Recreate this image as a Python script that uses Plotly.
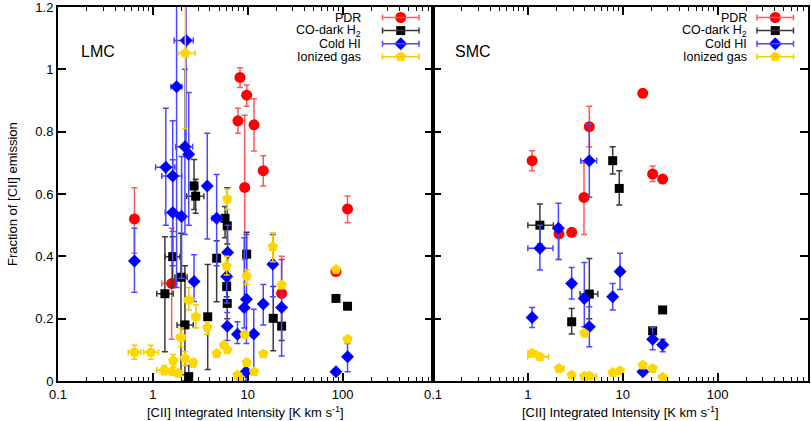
import plotly.graph_objects as go

# ---------------- LMC data ----------------
lmc_pdr_x = [0.64, 1.58, 8.30, 9.76, 7.9, 11.66, 14.6, 9.30, 113, 85.3, 22.8]
lmc_pdr_y = [0.52, 0.313, 0.974, 0.917, 0.835, 0.822, 0.675, 0.621, 0.552, 0.351, 0.281]
lmc_pdr_ylo = [0.41, 0.134, 0.942, 0.882, 0.795, 0.738, 0.626, 0.39, 0.508, 0.351, 0.17]
lmc_pdr_yhi = [0.62, 0.49, 1.005, 0.95, 0.875, 0.906, 0.723, 0.853, 0.594, 0.351, 0.40]
lmc_pdr_xlo = [0.64, 1.24, 8.30, 9.76, 7.9, 11.66, 14.6, 9.30, 113, 85.3, 22.8]
lmc_pdr_xhi = [0.64, 1.71, 8.30, 9.76, 7.9, 11.66, 14.6, 9.30, 113, 85.3, 22.8]

lmc_h2_x = [2.72, 2.83, 5.77, 6.09, 9.76, 1.62, 1.98, 1.34, 2.18, 2.39, 3.79, 4.71, 6.01, 6.09, 18.6, 22.8, 85.3, 113]
lmc_h2_y = [0.626, 0.593, 0.522, 0.498, 0.407, 0.399, 0.333, 0.28, 0.18, 0.014, 0.206, 0.394, 0.303, 0.249, 0.201, 0.176, 0.265, 0.24]
lmc_h2_ylo = [0.55, 0.538, 0.46, 0.44, 0.33, 0.30, 0.02, 0.094, 0.0, 0.0, 0.037, 0.254, 0.27, 0.2, 0.097, 0.13, 0.265, 0.24]
lmc_h2_yhi = [0.711, 0.647, 0.56, 0.62, 0.477, 0.463, 0.474, 0.463, 0.37, 0.05, 0.374, 0.45, 0.33, 0.3, 0.303, 0.23, 0.265, 0.24]
lmc_h2_xlo = [2.72, 2.27, 5.77, 6.09, 9.76, 1.35, 1.71, 1.10, 1.80, 2.39, 3.79, 4.71, 6.01, 6.09, 18.6, 22.8, 85.3, 113]
lmc_h2_xhi = [2.72, 3.45, 5.77, 6.09, 9.76, 1.93, 2.30, 1.64, 2.67, 2.39, 3.79, 4.71, 6.01, 6.09, 18.6, 22.8, 85.3, 113]

lmc_hi_x = [2.24, 1.78, 2.18, 2.39, 1.37, 1.62, 3.75, 1.62, 2.01, 4.71, 6.15, 0.64, 2.72, 6.01, 6.09, 9.7, 9.2, 7.8, 11.6, 9.6, 14.6, 18.4, 22.8, 85.3, 113]
lmc_hi_y = [1.093, 0.944, 0.752, 0.728, 0.686, 0.658, 0.626, 0.541, 0.528, 0.522, 0.412, 0.385, 0.319, 0.335, 0.176, 0.262, 0.235, 0.15, 0.151, 0.03, 0.247, 0.375, 0.236, 0.03, 0.078]
lmc_hi_ylo = [0.72, 0.30, 0.47, 0.50, 0.50, 0.48, 0.456, 0.37, 0.33, 0.37, 0.32, 0.285, 0.255, 0.25, 0.13, 0.12, 0.17, 0.12, 0.02, 0.0, 0.18, 0.27, 0.08, 0.03, 0.03]
lmc_hi_yhi = [1.5, 1.5, 1.0, 0.926, 0.875, 0.835, 0.795, 0.71, 0.72, 0.663, 0.50, 0.49, 0.405, 0.42, 0.22, 0.47, 0.46, 0.19, 0.23, 0.06, 0.31, 0.47, 0.39, 0.03, 0.12]
lmc_hi_xlo = [1.68, 1.55, 1.74, 2.39, 1.07, 1.24, 3.75, 1.35, 2.01, 4.2, 6.15, 0.60, 2.72, 6.01, 6.09, 9.7, 9.2, 7.8, 11.6, 9.6, 14.6, 18.4, 22.8, 85.3, 113]
lmc_hi_xhi = [2.67, 2.02, 2.63, 2.39, 1.71, 2.02, 3.75, 2.00, 2.01, 5.3, 6.15, 0.68, 2.72, 6.01, 6.09, 9.7, 9.2, 7.8, 11.6, 9.6, 14.6, 18.4, 22.8, 85.3, 113]

lmc_ion_x = [2.20, 6.09, 6.01, 9.76, 2.40, 2.85, 3.75, 1.98, 0.64, 0.95, 1.32, 1.64, 2.18, 2.67, 1.60, 1.85, 4.71, 5.6, 6.1, 7.8, 8.2, 9.76, 9.3, 11.7, 14.6, 18.4, 22.8, 85.3, 113]
lmc_ion_y = [1.052, 0.584, 0.369, 0.337, 0.26, 0.206, 0.172, 0.14, 0.092, 0.092, 0.035, 0.065, 0.073, 0.059, 0.03, 0.025, 0.088, 0.115, 0.1, 0.019, 0.009, 0.059, 0.148, 0.03, 0.087, 0.431, 0.308, 0.358, 0.134]
lmc_ion_ylo = [0.81, 0.55, 0.34, 0.31, 0.228, 0.17, 0.15, 0.11, 0.07, 0.07, 0.02, 0.045, 0.05, 0.045, 0.03, 0.025, 0.088, 0.115, 0.1, 0.019, 0.009, 0.059, 0.148, 0.03, 0.087, 0.383, 0.308, 0.358, 0.134]
lmc_ion_yhi = [1.5, 0.615, 0.40, 0.356, 0.30, 0.245, 0.19, 0.17, 0.115, 0.115, 0.05, 0.085, 0.095, 0.07, 0.03, 0.025, 0.088, 0.115, 0.1, 0.019, 0.009, 0.059, 0.148, 0.03, 0.087, 0.476, 0.308, 0.358, 0.134]
lmc_ion_xlo = [1.84, 6.09, 6.01, 9.76, 2.15, 2.6, 3.5, 1.8, 0.55, 0.80, 1.10, 1.64, 2.18, 2.67, 1.60, 1.85, 4.71, 5.6, 6.1, 7.8, 8.2, 9.76, 9.3, 11.7, 14.6, 18.4, 22.8, 85.3, 113]
lmc_ion_xhi = [2.78, 6.09, 6.01, 9.76, 2.70, 3.1, 4.0, 2.2, 0.75, 1.15, 1.55, 1.64, 2.18, 2.67, 1.60, 1.85, 4.71, 5.6, 6.1, 7.8, 8.2, 9.76, 9.3, 11.7, 14.6, 18.4, 22.8, 85.3, 113]

# ---------------- SMC data ----------------
smc_pdr_x = [1.11, 4.45, 3.91, 2.13, 2.90, 16.3, 20.7, 26.4]
smc_pdr_y = [0.707, 0.816, 0.589, 0.472, 0.477, 0.923, 0.664, 0.648]
smc_pdr_ylo = [0.675, 0.752, 0.47, 0.39, 0.477, 0.923, 0.64, 0.648]
smc_pdr_yhi = [0.739, 0.882, 0.70, 0.50, 0.477, 0.923, 0.69, 0.648]

smc_h2_x = [1.34, 7.85, 9.2, 4.45, 2.90, 26.4, 20.7]
smc_h2_y = [0.5, 0.707, 0.618, 0.279, 0.19, 0.228, 0.161]
smc_h2_ylo = [0.44, 0.664, 0.565, 0.2, 0.151, 0.228, 0.161]
smc_h2_yhi = [0.568, 0.752, 0.675, 0.393, 0.233, 0.228, 0.161]
smc_h2_xlo = [1.0, 7.85, 9.2, 3.55, 2.90, 26.4, 20.7]
smc_h2_xhi = [1.86, 7.85, 9.2, 5.48, 2.90, 26.4, 20.7]

smc_hi_x = [4.45, 2.10, 1.34, 2.90, 3.94, 4.45, 1.11, 7.85, 9.38, 20.7, 26.4, 16.3]
smc_hi_y = [0.707, 0.49, 0.426, 0.313, 0.265, 0.174, 0.204, 0.27, 0.351, 0.134, 0.116, 0.03]
smc_hi_ylo = [0.59, 0.39, 0.356, 0.263, 0.174, 0.11, 0.172, 0.228, 0.294, 0.1, 0.094, 0.03]
smc_hi_yhi = [0.824, 0.57, 0.50, 0.364, 0.38, 0.238, 0.236, 0.313, 0.41, 0.172, 0.134, 0.03]
smc_hi_xlo = [3.61, 1.95, 1.0, 2.90, 3.94, 4.45, 1.11, 7.85, 9.38, 20.7, 26.4, 16.3]
smc_hi_xhi = [5.32, 2.25, 1.84, 2.90, 3.94, 4.45, 1.11, 7.85, 9.38, 20.7, 26.4, 16.3]

smc_ion_x = [1.11, 1.34, 2.13, 2.90, 3.94, 4.45, 3.94, 7.85, 9.38, 16.3, 20.7, 26.4]
smc_ion_y = [0.089, 0.078, 0.04, 0.019, 0.015, 0.016, 0.153, 0.027, 0.033, 0.051, 0.04, 0.012]
smc_ion_xlo = [1.0, 1.0, 2.0, 2.90, 3.94, 3.7, 3.94, 7.85, 9.38, 16.3, 20.7, 26.4]
smc_ion_xhi = [1.25, 1.65, 2.4, 2.90, 3.94, 5.3, 3.94, 7.85, 9.38, 16.3, 20.7, 26.4]

series_names = ["PDR", "CO-dark H<sub>2</sub>", "Cold HI", "Ionized gas"]
y_ticks = [0, 0.2, 0.4, 0.6, 0.8, 1.0, 1.2]
y_tick_text = ["0", "0.2", "0.4", "0.6", "0.8", "1", "1.2"]
x_ticks = [0.1, 1, 10, 100]
x_tick_text = ["0.1", "1", "10", "100"]

FONT = "Liberation Sans, Arial"

# ---------------- styles ----------------
STY = {
    "pdr": dict(symbol="circle", size=11, color="#ff0000", bar="#ff5a5a"),
    "h2": dict(symbol="square", size=9, color="#000000", bar="#3a3a3a"),
    "hi": dict(symbol="diamond", size=10, color="#0000ff", bar="#4848ff"),
    "ion": dict(symbol="pentagon", size=11, color="#ffd700", bar="#f2cc00"),
}


def plus_minus(v, lo, hi):
    if lo is None:
        return [0] * len(v), [0] * len(v)
    p = [max(h - c, 0) for c, h in zip(v, hi)]
    m = [max(c - l, 0) for c, l in zip(v, lo)]
    return p, m


def add_series(fig, key, x, y, ylo=None, yhi=None, xlo=None, xhi=None, axis="x", yaxis="y"):
    s = STY[key]
    yp, ym = plus_minus(y, ylo, yhi)
    xp, xm = plus_minus(x, xlo, xhi)
    fig.add_trace(go.Scatter(
        x=x, y=y, mode="markers", xaxis=axis, yaxis=yaxis, showlegend=False,
        marker=dict(symbol=s["symbol"], size=s["size"], color=s["color"], line=dict(width=0)),
        error_y=dict(type="data", symmetric=False, array=yp, arrayminus=ym,
                     color=s["bar"], thickness=1.5, width=3),
        error_x=dict(type="data", symmetric=False, array=xp, arrayminus=xm,
                     color=s["bar"], thickness=1.5, width=3),
    ))


fig = go.Figure()
add_series(fig, "pdr", lmc_pdr_x, lmc_pdr_y, lmc_pdr_ylo, lmc_pdr_yhi, lmc_pdr_xlo, lmc_pdr_xhi)
add_series(fig, "h2", lmc_h2_x, lmc_h2_y, lmc_h2_ylo, lmc_h2_yhi, lmc_h2_xlo, lmc_h2_xhi)
add_series(fig, "hi", lmc_hi_x, lmc_hi_y, lmc_hi_ylo, lmc_hi_yhi, lmc_hi_xlo, lmc_hi_xhi)
add_series(fig, "ion", lmc_ion_x, lmc_ion_y, lmc_ion_ylo, lmc_ion_yhi, lmc_ion_xlo, lmc_ion_xhi)

add_series(fig, "pdr", smc_pdr_x, smc_pdr_y, smc_pdr_ylo, smc_pdr_yhi, axis="x2", yaxis="y2")
add_series(fig, "h2", smc_h2_x, smc_h2_y, smc_h2_ylo, smc_h2_yhi, smc_h2_xlo, smc_h2_xhi, axis="x2", yaxis="y2")
add_series(fig, "hi", smc_hi_x, smc_hi_y, smc_hi_ylo, smc_hi_yhi, smc_hi_xlo, smc_hi_xhi, axis="x2", yaxis="y2")
add_series(fig, "ion", smc_ion_x, smc_ion_y, None, None, smc_ion_xlo, smc_ion_xhi, axis="x2", yaxis="y2")

# ---------------- legends (drawn on a pixel overlay axis) ----------------
PW, PH = 750, 374  # plot area in px
shapes = []
annotations = []
leg_rows = [10.5, 23.6, 36.7, 49.8]
keys = ["pdr", "h2", "hi", "ion"]
for text_right, x0, x1 in [(304.5, 324.5, 361.0), (690.5, 699.0, 735.5)]:
    mx = (x0 + x1) / 2
    for key, name, ry in zip(keys, series_names, leg_rows):
        s = STY[key]
        lc = s["bar"]
        shapes.append(dict(type="line", xref="x3", yref="y3", x0=x0, x1=x1, y0=ry, y1=ry,
                           line=dict(color=lc, width=1.5)))
        for xe in (x0, x1):
            shapes.append(dict(type="line", xref="x3", yref="y3", x0=xe, x1=xe, y0=ry - 3, y1=ry + 3,
                               line=dict(color=lc, width=1.5)))
        annotations.append(dict(xref="x3", yref="y3", x=text_right, y=ry, text=name, showarrow=False,
                                xanchor="right", yanchor="middle",
                                font=dict(size=12.5, color="black", family=FONT)))
        fig.add_trace(go.Scatter(x=[mx], y=[ry], mode="markers", xaxis="x3", yaxis="y3",
                                 showlegend=False, hoverinfo="skip", cliponaxis=False,
                                 marker=dict(symbol=s["symbol"], size=s["size"], color=s["color"])))

# panel labels
annotations.append(dict(xref="x3", yref="y3", x=21, y=44, text="LMC", showarrow=False,
                        xanchor="left", yanchor="middle",
                        font=dict(size=16, color="black", family=FONT)))
annotations.append(dict(xref="x3", yref="y3", x=395, y=44, text="SMC", showarrow=False,
                        xanchor="left", yanchor="middle",
                        font=dict(size=16, color="black", family=FONT)))

# axis titles
xt = "[CII] Integrated Intensity [K km s<sup>-1</sup>]"
for xc in (0.25, 0.75):
    annotations.append(dict(xref="paper", yref="paper", x=xc, y=0, yshift=-21, text=xt,
                            showarrow=False, xanchor="center", yanchor="top",
                            font=dict(size=13, color="black", family=FONT)))
annotations.append(dict(xref="paper", yref="paper", x=-46 / PW, y=0.5, text="Fraction of [CII] emission",
                        textangle=-90, showarrow=False, xanchor="center", yanchor="middle",
                        font=dict(size=13, color="black", family=FONT)))

minor_vals = [m * 10 ** e for e in (-1, 0, 1, 2) for m in range(2, 10)]

common_x = dict(type="log", range=[-1, 2.9542], tickmode="array", tickvals=x_ticks, ticktext=x_tick_text,
                ticks="inside", ticklen=8, tickwidth=1.5, tickcolor="black",
                showline=True, linecolor="black", linewidth=2, mirror="allticks",
                showgrid=False, zeroline=False, ticklabeloverflow="allow", automargin=False,
                tickfont=dict(size=13, color="black", family=FONT),
                minor=dict(tickmode="array", tickvals=minor_vals, ticks="inside", ticklen=4,
                           tickwidth=1, tickcolor="black", showgrid=False))
common_y = dict(range=[0, 1.2001], tickmode="array", tickvals=y_ticks, ticktext=y_tick_text,
                ticks="inside", ticklen=8, tickwidth=1.5, tickcolor="black",
                showline=True, linecolor="black", linewidth=2, mirror="allticks",
                showgrid=False, zeroline=False, ticklabeloverflow="allow", automargin=False,
                tickfont=dict(size=13, color="black", family=FONT))

fig.update_layout(
    width=811, height=421,
    margin=dict(l=58, r=3, t=7, b=40, autoexpand=False),
    paper_bgcolor="white", plot_bgcolor="rgba(0,0,0,0)",
    showlegend=False,
    xaxis=dict(domain=[0, 0.5], anchor="y", **common_x),
    yaxis=dict(domain=[0, 1], anchor="x", **common_y),
    xaxis2=dict(domain=[0.5, 1], anchor="y2", **common_x),
    yaxis2=dict(domain=[0, 1], anchor="x2", showticklabels=False, **common_y),
    xaxis3=dict(domain=[0, 1], anchor="y3", range=[0, PW], visible=False, fixedrange=True),
    yaxis3=dict(domain=[0, 1], anchor="x3", range=[PH, 0], visible=False, fixedrange=True),
    shapes=shapes,
    annotations=annotations,
)

fig.write_html("out.html")
